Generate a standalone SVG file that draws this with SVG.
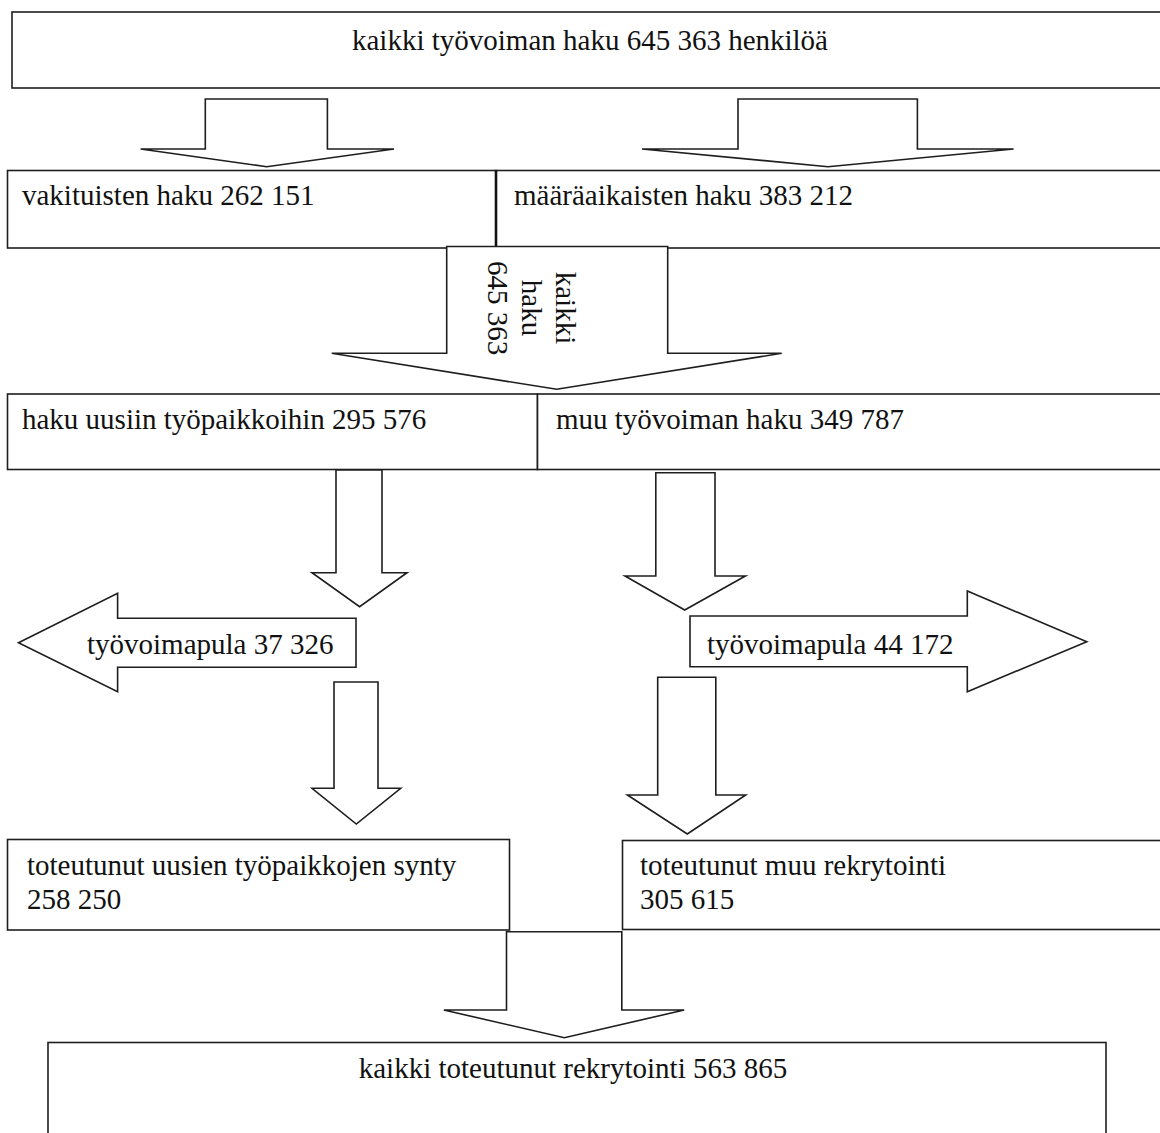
<svg xmlns="http://www.w3.org/2000/svg" width="1160" height="1133" viewBox="0 0 1160 1133">
<style>
.box{fill:#fff;stroke:#1e1e1e;stroke-width:1.6}
.arr{fill:#fff;stroke:#1e1e1e;stroke-width:1.6;stroke-linejoin:miter}
.div{stroke:#111;stroke-width:2.6}
text{font-family:"Liberation Serif","Times New Roman",serif;font-size:29px;fill:#111}
.c{text-anchor:middle}
</style>
<rect width="1160" height="1133" fill="#fff"/>
<g id="node-top">
<rect class="box" x="12" y="12" width="1160" height="76"/>
<text class="c" x="590" y="50">kaikki työvoiman haku 645 363 henkilöä</text>
</g>
<g id="node-vakituiset">
<rect class="box" x="7.5" y="170.5" width="488.5" height="77.5"/>
<text x="22" y="205">vakituisten haku 262 151</text>
</g>
<g id="node-maaraaikaiset">
<rect class="box" x="496" y="170.5" width="680" height="77.5"/>
<line class="div" x1="496" y1="170.5" x2="496" y2="248"/>
<text x="514" y="205">määräaikaisten haku 383 212</text>
</g>
<g id="node-uudet">
<rect class="box" x="7.5" y="394" width="530" height="75.5"/>
<text x="22" y="429">haku uusiin työpaikkoihin 295 576</text>
</g>
<g id="node-muu">
<rect class="box" x="537.5" y="394" width="640" height="75.5"/>
<text x="556" y="429">muu työvoiman haku 349 787</text>
</g>
<g id="node-pula-vasen">
<polygon class="arr" points="18.5,642.7 117.6,593.3 117.6,618.3 356,618.3 356,667.3 117.6,667.3 117.6,691.7"/>
<text x="87" y="654">työvoimapula 37 326</text>
</g>
<g id="node-pula-oikea">
<polygon class="arr" points="690,616 967.3,616 967.3,591 1086.8,641.7 967.3,691.7 967.3,666.7 690,666.7"/>
<text x="707" y="654">työvoimapula 44 172</text>
</g>
<g id="node-toteutunut-uudet">
<rect class="box" x="7.5" y="839.5" width="502" height="90.5"/>
<text x="27" y="875">toteutunut uusien työpaikkojen synty</text>
<text x="27" y="909">258 250</text>
</g>
<g id="node-toteutunut-muu">
<rect class="box" x="622.5" y="840.5" width="560" height="89"/>
<text x="640" y="875">toteutunut muu rekrytointi</text>
<text x="640" y="909">305 615</text>
</g>
<g id="node-kaikki-toteutunut">
<rect class="box" x="48" y="1042.5" width="1058" height="110"/>
<text class="c" x="573" y="1078">kaikki toteutunut rekrytointi 563 865</text>
</g>
<g id="connectors">
<polygon class="arr" points="205.3,99 327.4,99 327.4,149 394,149 266.7,166.7 140.6,149 205.3,149"/>
<polygon class="arr" points="738,99 917.4,99 917.4,149 1013.6,149 828,166.7 642,149 738,149"/>
<polygon class="arr" points="446.7,246.5 667.7,246.5 667.7,353.3 781.7,353.3 556.7,389.3 331.7,353.3 446.7,353.3"/>
<g transform="translate(556,308) rotate(90)">
<text class="c" x="0" y="0">kaikki</text>
<text class="c" x="0" y="34">haku</text>
<text class="c" x="0" y="68">645 363</text>
</g>
<polygon class="arr" points="336,470 382,470 382,572.7 407,572.7 359.6,606.7 312,572.7 336,572.7"/>
<polygon class="arr" points="655.8,472.7 715,472.7 715,576 745.4,576 684.7,610 625,576 655.8,576"/>
<polygon class="arr" points="334,682 378,682 378,788.3 400.7,788.3 356.3,824 312,788.3 334,788.3"/>
<polygon class="arr" points="657.7,677.3 715.8,677.3 715.8,795 745.7,795 687.3,834 627.4,795 657.7,795"/>
<polygon class="arr" points="506.5,931.7 621.8,931.7 621.8,1010 684.2,1010 564.3,1037.7 443.8,1010 506.5,1010"/>
</g>
</svg>
